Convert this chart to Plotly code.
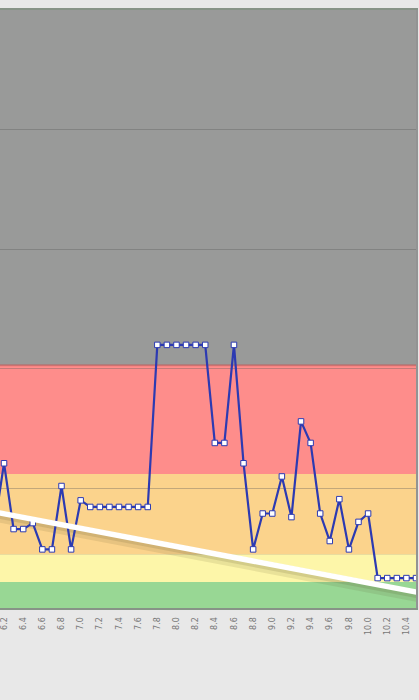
import plotly.graph_objects as go

# ---- data ----
x_vals = [6.1, 6.2, 6.3, 6.4, 6.5, 6.6, 6.7, 6.8, 6.9, 7.0,
          7.1, 7.2, 7.3, 7.4, 7.5, 7.6, 7.7, 7.8, 7.9, 8.0,
          8.1, 8.2, 8.3, 8.4, 8.5, 8.6, 8.7, 8.8, 8.9, 9.0,
          9.1, 9.2, 9.3, 9.4, 9.5, 9.6, 9.7, 9.8, 9.9, 10.0,
          10.1, 10.2, 10.3, 10.4, 10.5]
y_vals = [0.68, 1.21, 0.66, 0.66, 0.71, 0.49, 0.49, 1.02, 0.49, 0.90,
          0.845, 0.845, 0.845, 0.845, 0.845, 0.845, 0.845, 2.20, 2.20, 2.20,
          2.20, 2.20, 2.20, 1.38, 1.38, 2.20, 1.21, 0.49, 0.79, 0.79,
          1.10, 0.76, 1.56, 1.38, 0.79, 0.56, 0.91, 0.49, 0.72, 0.79,
          0.25, 0.25, 0.25, 0.25, 0.25]
trend_x = [6.0, 10.6]
trend_y = [0.818, 0.119]
tick_vals = [6.2, 6.4, 6.6, 6.8, 7.0, 7.2, 7.4, 7.6, 7.8, 8.0, 8.2,
             8.4, 8.6, 8.8, 9.0, 9.2, 9.4, 9.6, 9.8, 10.0, 10.2, 10.4]
tick_text = ["6.2", "6.4", "6.6", "6.8", "7.0", "7.2", "7.4", "7.6", "7.8", "8.0", "8.2",
             "8.4", "8.6", "8.8", "9.0", "9.2", "9.4", "9.6", "9.8", "10.0", "10.2", "10.4"]
band_edges = [0, 0.217, 0.45, 1.12, 2.03, 5.0]
band_colors = ["#98d794", "#fdf6a9", "#fbd38c", "#fe8d8b", "#999a99"]

fig = go.Figure()

# soft shadow of trend line
fig.add_trace(go.Scatter(x=trend_x, y=[v - 0.03 for v in trend_y], mode="lines",
                         line=dict(color="rgba(90,80,40,0.12)", width=12),
                         hoverinfo="skip", showlegend=False))
fig.add_trace(go.Scatter(x=trend_x, y=[v - 0.02 for v in trend_y], mode="lines",
                         line=dict(color="rgba(90,80,40,0.15)", width=7),
                         hoverinfo="skip", showlegend=False))

fig.add_trace(go.Scatter(x=x_vals, y=y_vals, mode="lines+markers",
                         line=dict(color="#2c3ab2", width=2.2),
                         marker=dict(symbol="square", size=5.5, color="white",
                                     line=dict(color="#2c3ab2", width=1)),
                         showlegend=False))

fig.add_trace(go.Scatter(x=trend_x, y=trend_y, mode="lines",
                         line=dict(color="white", width=5.5),
                         hoverinfo="skip", showlegend=False))

shapes = []
for i, c in enumerate(band_colors):
    shapes.append(dict(type="rect", xref="paper", yref="y", x0=0, x1=1,
                       y0=band_edges[i], y1=band_edges[i + 1],
                       fillcolor=c, line=dict(width=0), layer="below"))
# darker edge at top of red band
shapes.append(dict(type="line", xref="paper", yref="y", x0=0, x1=1,
                   y0=band_edges[4], y1=band_edges[4],
                   line=dict(color="rgba(200,80,80,0.5)", width=2), layer="below"))

fig.update_layout(
    width=419, height=700,
    margin=dict(l=0, r=3, t=10, b=92, autoexpand=False),
    paper_bgcolor="#e8e8e8",
    plot_bgcolor="#999a99",
    shapes=shapes,
    showlegend=False,
)
fig.update_xaxes(range=[6.158, 10.5], tickvals=tick_vals, ticktext=tick_text,
                 tickangle=-90, tickfont=dict(family="DejaVu Sans", size=8, color="#777777"),
                 ticks="outside", ticklen=4, tickcolor="rgba(0,0,0,0)",
                 ticklabeloverflow="allow",
                 showgrid=False, zeroline=False, automargin=False,
                 showline=True, linecolor="rgba(70,90,70,0.6)", linewidth=2, mirror=True)
fig.update_yaxes(range=[0, 5], dtick=1, showticklabels=False, automargin=False,
                 showgrid=True, gridcolor="rgba(90,90,90,0.35)", gridwidth=1,
                 zeroline=False,
                 showline=True, linecolor="rgba(90,90,90,0.6)", linewidth=2, mirror=True)

fig.write_html("out.html", config={"displayModeBar": False},
               post_script="document.body.style.margin='0';document.body.style.overflow='hidden';")
